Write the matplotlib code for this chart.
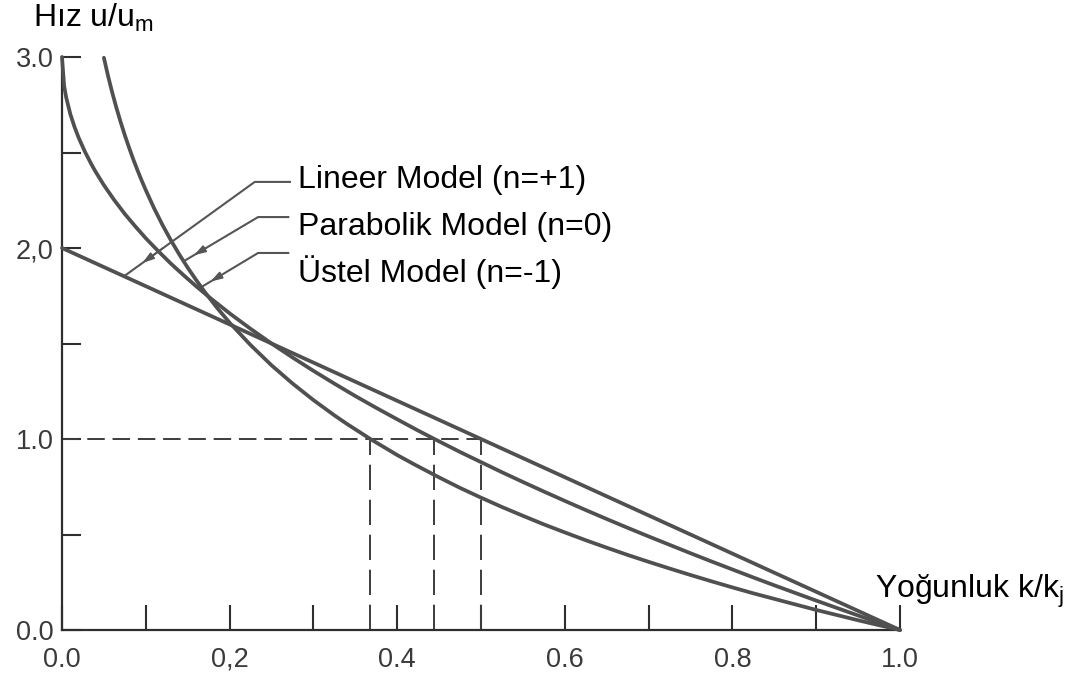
import matplotlib
matplotlib.use("Agg")
import matplotlib.pyplot as plt

plt.rcParams["font.family"] = ["Liberation Sans", "DejaVu Sans"]
plt.rcParams["mathtext.fontset"] = "custom"
plt.rcParams["mathtext.rm"] = "Liberation Sans"
plt.rcParams["mathtext.it"] = "Liberation Sans"

# Normalised density k/kj and speed u/um for the three speed-density models
k_linear = [0.0, 0.5, 1.0]
u_linear = [2.0, 1.0, 0.0]

k_parabolic = [0.0, 0.0025, 0.005, 0.01, 0.015, 0.02, 0.0275, 0.035, 0.04, 0.05,
               0.0625, 0.075, 0.0875, 0.1, 0.115, 0.13, 0.145, 0.16, 0.175,
               0.2, 0.225, 0.25, 0.275, 0.3, 0.325, 0.35, 0.375, 0.4, 0.425,
               0.444, 0.475, 0.5, 0.525, 0.55, 0.575, 0.6, 0.625, 0.65, 0.675,
               0.7, 0.725, 0.75, 0.775, 0.8, 0.825, 0.85, 0.875, 0.9, 0.925,
               0.95, 0.975, 1.0]
u_parabolic = [3.000, 2.850, 2.788, 2.700, 2.633, 2.576, 2.503, 2.439, 2.400, 2.329,
               2.250, 2.178, 2.113, 2.051, 1.983, 1.918, 1.858, 1.800, 1.745,
               1.658, 1.577, 1.500, 1.427, 1.357, 1.290, 1.225, 1.163, 1.103, 1.044,
               1.001, 0.932, 0.879, 0.826, 0.775, 0.725, 0.676, 0.628, 0.581, 0.535,
               0.490, 0.446, 0.402, 0.359, 0.317, 0.275, 0.234, 0.194, 0.154, 0.115,
               0.076, 0.038, 0.0]

k_exponential = [0.05, 0.055, 0.06, 0.065, 0.07, 0.075, 0.08, 0.085, 0.09, 0.095,
                 0.1, 0.11, 0.12, 0.13, 0.14, 0.15, 0.16, 0.17, 0.185, 0.2,
                 0.225, 0.25, 0.275, 0.3, 0.325, 0.34, 0.368, 0.4, 0.42, 0.45,
                 0.475, 0.5, 0.525, 0.55, 0.575, 0.6, 0.625, 0.65, 0.675, 0.7,
                 0.725, 0.75, 0.775, 0.8, 0.825, 0.85, 0.875, 0.9, 0.925, 0.95,
                 0.975, 1.0]
u_exponential = [2.996, 2.900, 2.813, 2.733, 2.659, 2.590, 2.526, 2.465, 2.408, 2.354,
                 2.303, 2.207, 2.120, 2.040, 1.966, 1.897, 1.833, 1.772, 1.687, 1.609,
                 1.492, 1.386, 1.291, 1.204, 1.124, 1.079, 1.000, 0.916, 0.868, 0.799,
                 0.744, 0.693, 0.644, 0.598, 0.553, 0.511, 0.470, 0.431, 0.393, 0.357,
                 0.322, 0.288, 0.255, 0.223, 0.192, 0.163, 0.134, 0.105, 0.078, 0.051,
                 0.025, 0.0]

# Density at which each model reaches the optimum speed (u/um = 1)
k_at_um = [0.368, 0.444, 0.5]
u_ref = 1.0

x_major = [0.0, 0.2, 0.4, 0.6, 0.8, 1.0]
x_minor = [0.1, 0.3, 0.5, 0.7, 0.9]
x_labels = ["0.0", "0,2", "0.4", "0.6", "0.8", "1.0"]
y_major = [0.0, 1.0, 2.0, 3.0]
y_minor = [0.5, 1.5, 2.5]
y_labels = ["0.0", "1.0", "2,0", "3.0"]

model_labels = ["Lineer Model (n=+1)", "Parabolik Model (n=0)", "Üstel Model (n=-1)"]

W, H = 1079, 693
fig = plt.figure(figsize=(W / 100, H / 100), dpi=100)
ax = fig.add_axes([62 / W, 1 - 630 / H, 838 / W, 573 / H])
ax.set_xlim(0, 1.0)
ax.set_ylim(0, 3.0)

axis_col = "#2e2e2e"
curve_col = "#505050"
for side in ("top", "right"):
    ax.spines[side].set_visible(False)
for side in ("left", "bottom"):
    ax.spines[side].set_color(axis_col)
    ax.spines[side].set_linewidth(1.6)

ax.set_xticks(x_major)
ax.set_xticklabels(x_labels)
ax.set_xticks(x_minor, minor=True)
ax.set_yticks(y_major)
ax.set_yticklabels(y_labels)
ax.set_yticks(y_minor, minor=True)
ax.tick_params(axis="x", which="both", direction="in", length=18, width=1.5,
               color=axis_col, pad=12, labelsize=19.5, labelcolor="#3a3a3a")
ax.tick_params(axis="y", which="both", direction="in", length=14, width=1.5,
               color=axis_col, pad=6, labelsize=19.5, labelcolor="#3a3a3a")

# Model curves
for kk, uu in ((k_linear, u_linear), (k_parabolic, u_parabolic),
               (k_exponential, u_exponential)):
    ax.plot(kk, uu, color=curve_col, lw=2.7, solid_joinstyle="round",
            solid_capstyle="round", clip_on=False, zorder=3)

# Optimum speed / optimum density guides
dash_col = "#3c3c3c"
ax.plot([0, max(k_at_um)], [u_ref, u_ref], color=dash_col, lw=1.4,
        dashes=(9, 4), zorder=2)
for kd in k_at_um:
    ax.plot([kd, kd], [0, u_ref], color=dash_col, lw=1.4, dashes=(13, 5), zorder=2)

# Leader lines from the labels to the curves
leaders = [
    ((0.272, 2.346), (0.230, 2.346), (0.074, 1.852)),
    ((0.270, 2.162), (0.234, 2.162), (0.145, 1.930)),
    ((0.270, 1.974), (0.234, 1.974), (0.168, 1.800)),
]
lead_col = "#555555"
for p0, p1, p2 in leaders:
    ax.plot([p0[0], p1[0], p2[0]], [p0[1], p1[1], p2[1]], color=lead_col,
            lw=1.5, solid_joinstyle="round", clip_on=False, zorder=4)
    f_tip, f_tail = 0.86, 0.70
    tip = (p1[0] + f_tip * (p2[0] - p1[0]), p1[1] + f_tip * (p2[1] - p1[1]))
    tail = (p1[0] + f_tail * (p2[0] - p1[0]), p1[1] + f_tail * (p2[1] - p1[1]))
    ax.annotate("", xy=tip, xytext=tail,
                arrowprops=dict(arrowstyle="-|>,head_length=0.7,head_width=0.22",
                                color=lead_col, lw=1.2, shrinkA=0, shrinkB=0),
                zorder=4)

# Model labels
for lbl, yb in zip(model_labels, (188, 235, 282)):
    fig.text(298 / W, 1 - yb / H, lbl, fontsize=23, color="black",
             ha="left", va="baseline")

# Axis titles
fig.text(33 / W, 1 - 27 / H, r"Hız u/u$_{\rm m}$", fontsize=23, color="black",
         ha="left", va="baseline")
fig.text(875 / W, 1 - 598 / H, r"Yoğunluk k/k$_{\rm j}$", fontsize=23,
         color="black", ha="left", va="baseline")

fig.savefig("out.png", dpi=100, facecolor="white")
